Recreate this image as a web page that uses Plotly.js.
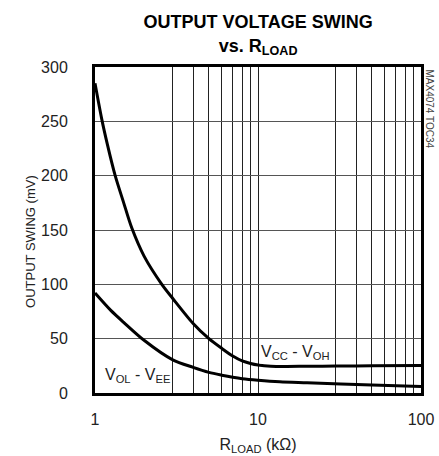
<!DOCTYPE html>
<html>
<head>
<meta charset="utf-8">
<script src="https://cdn.plot.ly/plotly-3.0.1.min.js"></script>
<style>html,body{margin:0;padding:0;background:#fff;}#chart{width:439px;height:456px;}</style>
</head>
<body>
<div id="chart"></div>
<script>
// R_LOAD (kOhm) and output swing (mV)
const rUpper = [1, 1.1, 1.19, 1.33, 1.5, 1.68, 2, 2.57, 3, 4, 5, 6, 7, 8, 9, 10, 12, 15, 20, 30, 50, 100];
const vUpper = [285, 252, 229, 200, 175, 152, 126, 100, 87, 64, 50, 41, 34, 29.5, 27.2, 25.8, 24.6, 24.4, 24.6, 24.8, 25, 25.3];
const rLower = [1, 1.25, 1.5, 2, 3, 4, 5, 6, 7, 8, 10, 13.6, 20, 50, 100];
const vLower = [92, 76, 65, 48.5, 30.5, 23.6, 19, 16.4, 14.5, 13.2, 11.8, 10.4, 9.5, 7.4, 6];

const xLabelVals = [1, 3, 4, 5, 6, 7, 8, 9, 10, 30, 40, 50, 60, 70, 80, 90, 100];
const xLabelText = ['1', '', '', '', '', '', '', '', '10', '', '', '', '', '', '', '', '100'];
const xGrayGrid = [2, 20];
const yTicks = [0, 50, 100, 150, 200, 250, 300];

const FONT = '"Liberation Sans", Arial, sans-serif';

const traces = [
  {x: rUpper, y: vUpper, mode: 'lines', line: {color: '#000', width: 3, shape: 'spline', smoothing: 0.8}, hoverinfo: 'skip', showlegend: false},
  {x: rLower, y: vLower, mode: 'lines', line: {color: '#000', width: 3, shape: 'spline', smoothing: 0.8}, hoverinfo: 'skip', showlegend: false}
];

const layout = {
  width: 439, height: 456,
  margin: {l: 95, r: 18, t: 67, b: 63},
  paper_bgcolor: '#fff', plot_bgcolor: '#fff',
  font: {family: FONT, color: '#222'},
  title: {
    text: '<b>OUTPUT VOLTAGE SWING<br>vs. R<sub>LOAD</sub></b>',
    font: {family: FONT, size: 18, color: '#000'},
    x: 0.588, xanchor: 'center', y: 0.938, yanchor: 'top', yref: 'container'
  },
  xaxis: {
    type: 'log', range: [0, 2],
    tickvals: xLabelVals, ticktext: xLabelText,
    showgrid: true, gridcolor: '#222', gridwidth: 1,
    showline: true, linecolor: '#000', linewidth: 3, mirror: true,
    ticks: '', ticklabelstandoff: 10,
    tickfont: {family: FONT, size: 16, color: '#222'},
    zeroline: false,
    title: {text: 'R<sub>LOAD</sub> (kΩ)', font: {family: FONT, size: 16, color: '#222'}, standoff: 12}
  },
  xaxis2: {
    type: 'log', range: [0, 2], overlaying: 'x',
    tickvals: xGrayGrid, showticklabels: false, ticks: '',
    showgrid: true, gridcolor: '#888', gridwidth: 1.5, showline: false, zeroline: false
  },
  yaxis: {
    range: [0, 300], tickvals: yTicks,
    showgrid: true, gridcolor: '#555', gridwidth: 1,
    showline: true, linecolor: '#000', linewidth: 3, mirror: true,
    ticks: '', ticklabelstandoff: 21,
    tickfont: {family: FONT, size: 16, color: '#222'},
    zeroline: false
  },
  annotations: [
    {text: 'OUTPUT SWING (mV)', xref: 'paper', yref: 'paper', x: 0, xshift: -74, y: 0.465, textangle: -90,
     showarrow: false, font: {family: FONT, size: 13, color: '#222'}},
    {text: 'V<sub>OL</sub> - V<sub>EE</sub>', xref: 'x', yref: 'y', x: Math.log10(1.81), y: 16.5, showarrow: false,
     font: {family: FONT, size: 16, color: '#222'}, bgcolor: '#fff', borderpad: 1},
    {text: 'V<sub>CC</sub> - V<sub>OH</sub>', xref: 'x', yref: 'y', x: Math.log10(17.1), y: 37, showarrow: false,
     font: {family: FONT, size: 16, color: '#222'}, bgcolor: '#fff', borderpad: 1},
    {text: 'MAX4074 TOC34', xref: 'paper', yref: 'paper', x: 1.0, xshift: 8, y: 1.0, xanchor: 'center', yanchor: 'top',
     textangle: 90, showarrow: false, font: {family: FONT, size: 10, color: '#444'}}
  ]
};

Plotly.newPlot('chart', traces, layout, {displayModeBar: false, staticPlot: true});
</script>
</body>
</html>
